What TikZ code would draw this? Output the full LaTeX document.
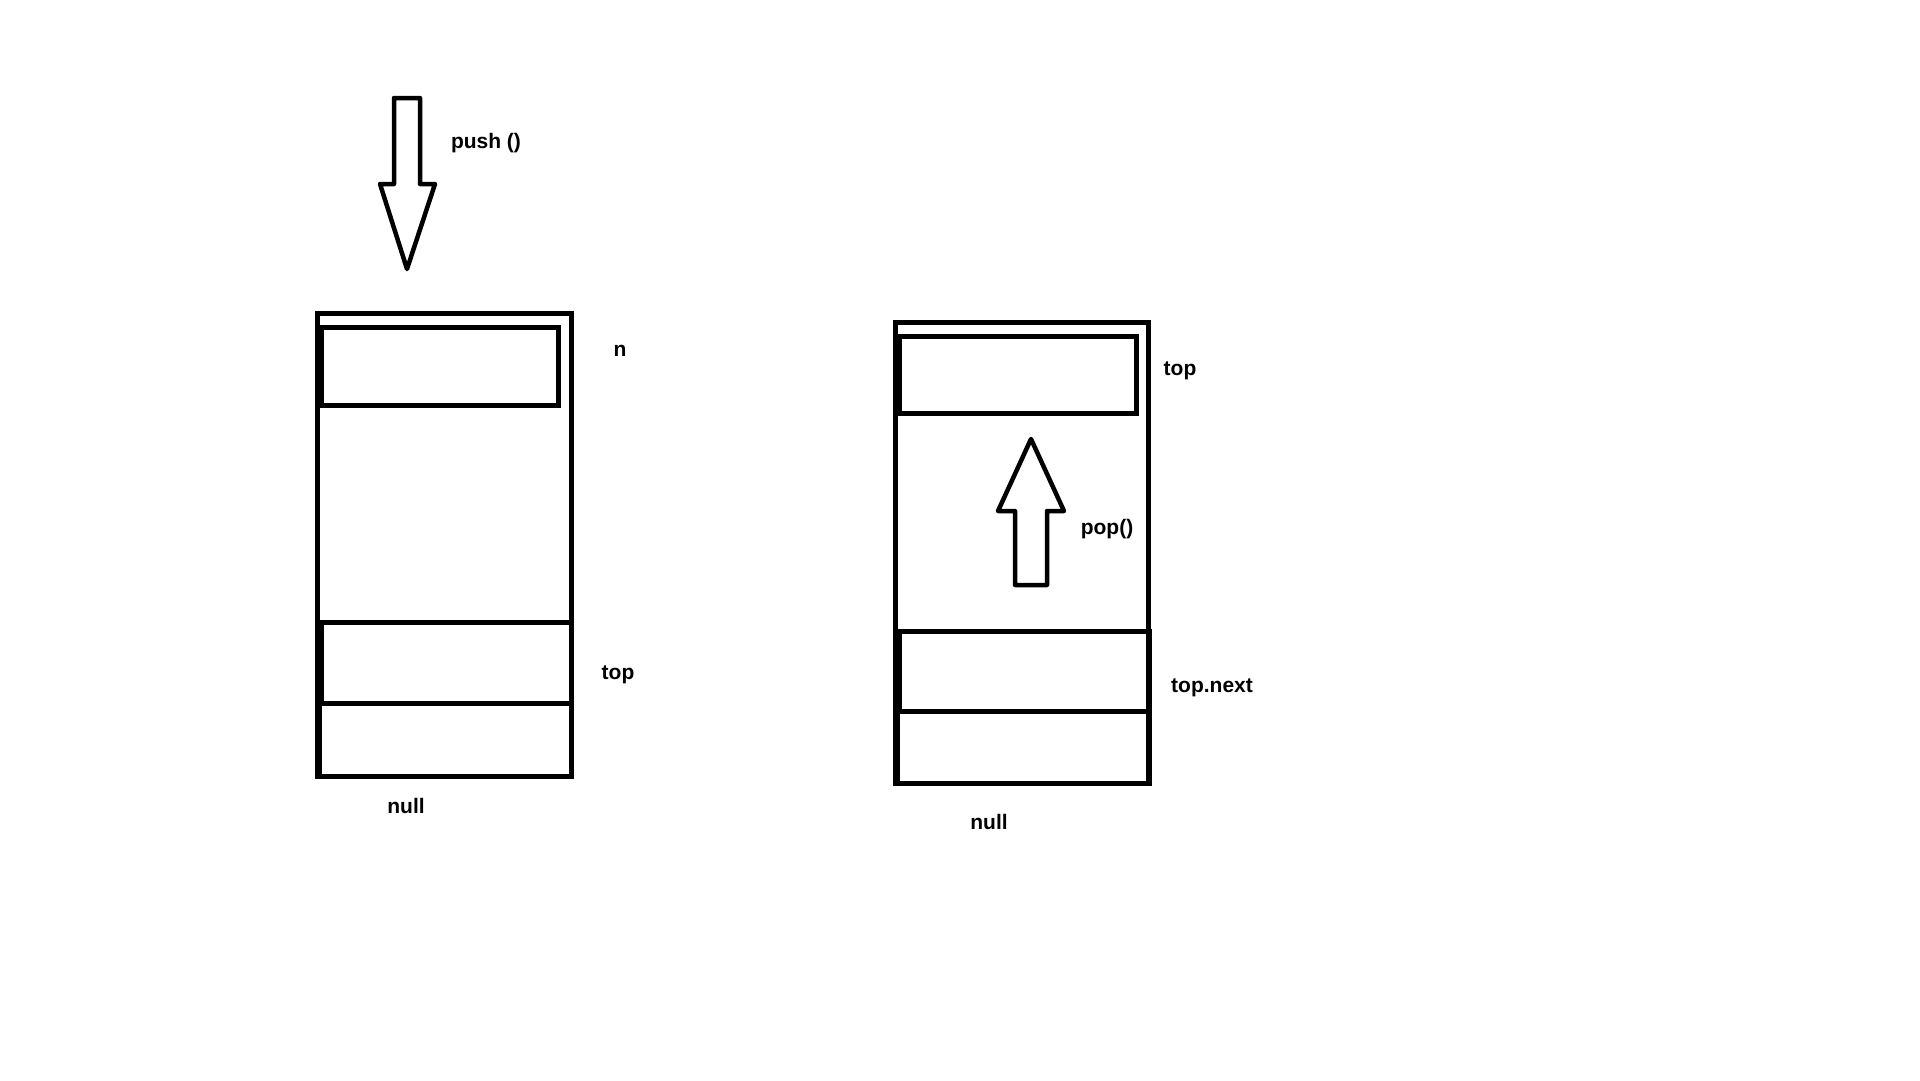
\documentclass[tikz,border=0pt]{standalone}
\usepackage{fontspec}
\setmainfont{Liberation Sans}
\tikzset{
  cell/.style={draw=black, line width=5pt},
  bigarrow/.style={draw=black, fill=white, line width=4.5pt, line join=round},
  lbl/.style={font=\fontsize{21}{25}\selectfont\bfseries, inner sep=0pt, anchor=center}
}
\begin{document}
\begin{tikzpicture}[x=1pt,y=-1pt]
\useasboundingbox[fill=white] (0,0) rectangle (1920,1080);
% left stack
\draw[cell] (317,313) rectangle (571,776);
\draw[cell] (321,327) rectangle (558,405);
\draw[cell] (321,622) rectangle (571,703);
\draw[cell] (319,703) rectangle (571,776);
% push arrow
\draw[bigarrow] (394,98) -- (420,98) -- (420,184) -- (435,184) -- (407,269)
  -- (380,184) -- (394,184) -- cycle;
% right stack
\draw[cell] (895,322) rectangle (1148,783);
\draw[cell] (899,336) rectangle (1136,413);
\draw[cell] (899,631) rectangle (1149,711);
\draw[cell] (897,711) rectangle (1149,783);
% pop arrow
\draw[bigarrow] (1031,439) -- (1064,511) -- (1047,511) -- (1047,585) -- (1015,585)
  -- (1015,511) -- (998,511) -- cycle;
% labels
\node[lbl] (push) at (486,143) {push ()};
\node[lbl] (n) at (620,351) {n};
\node[lbl] (topL) at (618,675) {top};
\node[lbl] (nullL) at (406,806) {null};
\node[lbl] (topR) at (1180,371) {top};
\node[lbl] (pop) at (1107,529) {pop()};
\node[lbl] (topnext) at (1212,688) {top.next};
\node[lbl] (nullR) at (989,822) {null};
\end{tikzpicture}
\end{document}
